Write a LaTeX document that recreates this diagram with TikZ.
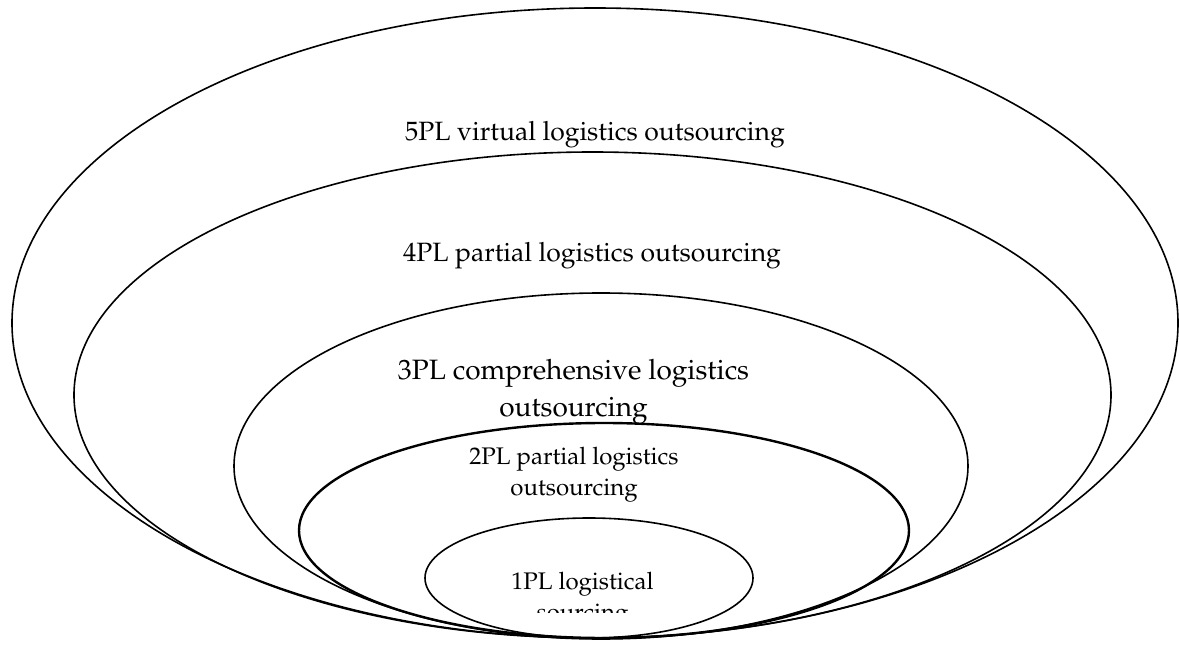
\documentclass[tikz,border=0pt]{standalone}
\usepackage[T1]{fontenc}
\usepackage{mathpazo}
\usetikzlibrary{shapes.geometric}
\tikzset{
  ring/.style={draw=black, ellipse, line width=1.6pt, inner sep=0pt, outer sep=0pt},
  lab/.style={align=center, inner sep=0pt},
  big/.style={lab, font=\fontsize{26.5}{31}\selectfont},
  mid/.style={lab, font=\fontsize{28}{37}\selectfont},
  small/.style={lab, font=\fontsize{24}{31}\selectfont}
}
\begin{document}
\begin{tikzpicture}[x=1pt, y=-1pt]
  \useasboundingbox (0,0) rectangle (1179,647);
  % nested levels of logistics outsourcing, all resting on a common bottom
  \node[ring, minimum width=1166pt, minimum height=630pt] (l5) at (595,323) {};
  \node[ring, minimum width=1037pt, minimum height=486pt] (l4) at (592.5,395) {};
  \node[ring, minimum width=734pt, minimum height=346pt] (l3) at (601,466) {};
  \node[ring, line width=2.4pt, minimum width=610pt, minimum height=215pt] (l2) at (604,530.5) {};
  \node[ring, minimum width=328pt, minimum height=120pt] (l1) at (589,578) {};
  % labels
  \node[big, anchor=base] (t5) at (595,141) {5PL virtual logistics outsourcing};
  \node[big, anchor=base] (t4) at (592,262) {4PL partial logistics outsourcing};
  \node[mid] (t3) at (573.5,391.5) {3PL comprehensive logistics\\outsourcing};
  \node[small] (t2) at (574,475) {2PL partial logistics\\outsourcing};
  \begin{scope}
    \clip (0,0) rectangle (1179,612);
    \node[small] (t1) at (582.5,600) {1PL logistical\\sourcing};
  \end{scope}
\end{tikzpicture}
\end{document}
